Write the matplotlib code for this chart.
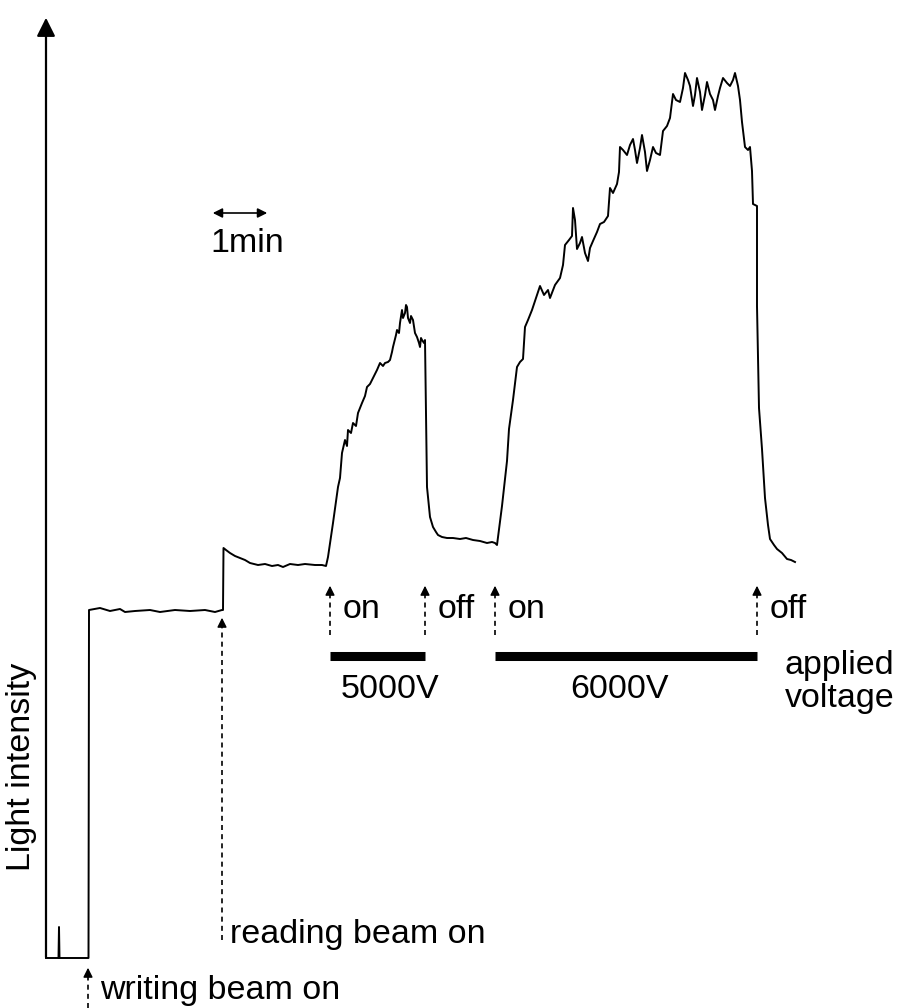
import matplotlib
matplotlib.use("Agg")
import matplotlib.pyplot as plt

plt.rcParams["font.family"] = ["Liberation Sans", "DejaVu Sans"]

# recorder trace: time in seconds, light intensity in arbitrary units
trace_t = [0, 12.5, 13, 13.5, 42.5, 43,
           54, 64, 74, 79, 89, 104, 114, 129, 144, 159, 169, 176, 177,
           177.5, 180, 184, 189, 194, 199, 204, 212, 219, 226, 232, 237, 244, 252, 259, 269, 276, 280,
           282, 287, 292, 294, 296, 299, 301, 302, 305, 307, 310, 312, 316, 319, 321, 324, 327, 331,
           334, 337, 339, 342, 344, 346, 347, 350, 351, 353, 354, 356, 357, 359, 360, 361, 362, 364,
           365, 367, 369, 371, 373, 374, 375, 376, 378, 379, 380, 381, 384, 387, 390, 392, 396, 401,
           407, 414, 420, 427, 434, 441, 446, 449,
           451, 456, 461, 463, 467, 471, 474, 477, 479, 482, 486, 490, 494, 498, 502, 504, 509, 514,
           517, 519, 523, 526, 527, 529, 531, 534, 536, 539, 542, 544, 547, 551, 554, 558, 562, 564,
           567, 571, 573, 574, 577, 581, 584, 587, 589, 591, 594, 596, 599, 601, 604, 607, 610, 614,
           617, 621, 624, 627, 630, 634, 637, 639, 642, 644, 647, 649, 651, 654, 656, 659, 661, 664,
           667, 669, 672, 674, 677, 681, 684, 687, 689, 692, 694, 696, 699, 702, 704, 706, 707, 711,
           711, 713, 716, 719, 722, 724, 728, 731, 736, 741, 745, 749]
trace_i = [2, 2, 33, 2, 2, 350,
           352, 349, 351, 348, 349, 350, 348, 350, 349, 350, 348, 350, 350,
           412, 410, 407, 404, 402, 400, 397, 395, 396, 394, 395, 393, 396, 395, 396, 395, 395, 394,
           403, 437, 473, 482, 507, 520, 514, 530, 527, 537, 534, 547, 557, 564, 573, 576, 582, 590,
           597, 594, 597, 598, 600, 608, 613, 625, 630, 627, 637, 650, 642, 647, 655, 653, 642, 637,
           644, 640, 627, 623, 617, 613, 622, 620, 617, 620, 547, 473, 443, 433, 428, 425, 423, 422,
           422, 421, 422, 420, 419, 417, 418, 417,
           415, 454, 499, 531, 560, 593, 598, 601, 633, 640, 650, 662, 674, 665, 670, 662, 675, 682,
           695, 715, 720, 724, 752, 740, 711, 717, 723, 707, 699, 712, 719, 728, 736, 738, 744, 772,
           767, 776, 788, 813, 810, 805, 815, 821, 810, 797, 812, 825, 808, 789, 800, 813, 807, 805,
           829, 834, 842, 866, 860, 858, 872, 887, 880, 874, 854, 865, 882, 868, 850, 865, 878, 866,
           860, 850, 864, 872, 882, 877, 874, 880, 887, 874, 860, 838, 813, 810, 813, 789, 756, 754,
           654, 552, 511, 462, 435, 421, 415, 411, 407, 401, 400, 398]

# event times (s)
write_on = 43
read_on = 177
volt_on = [284, 449]
volt_off = [379, 711]
volt_names = ["5000V", "6000V"]
volt_label_t = [344, 574]

fig = plt.figure(figsize=(9, 10.08), dpi=100)
ax = fig.add_axes([0, 0, 1, 1])
ax.set_xlim(-46, 854)
ax.set_ylim(-48, 960)
ax.axis("off")

fs = 24.5

ax.plot(trace_t, trace_i, color="black", lw=1.4)

# intensity axis with arrow head
ax.annotate("", xy=(0, 945), xytext=(0, 0),
            arrowprops=dict(arrowstyle="-|>", color="black", lw=1.6, mutation_scale=28))
ax.text(-24, 193, "Light intensity", rotation=90, ha="center", va="center", fontsize=fs)


def dashed_arrow(t, lo, hi):
    ax.plot([t, t], [lo, hi - 8], color="black", lw=1.2, ls=(0, (3, 2.5)))
    ax.annotate("", xy=(t, hi), xytext=(t, hi - 12),
                arrowprops=dict(arrowstyle="-|>", color="black", lw=1.0, mutation_scale=14))


# beam markers
dashed_arrow(write_on - 1, -48, -5)
ax.text(write_on + 11, -30, "writing beam on", ha="left", va="center", fontsize=fs)
dashed_arrow(read_on - 1, 20, 345)
ax.text(read_on + 7, 25, "reading beam on", ha="left", va="center", fontsize=fs)

# time scale
ax.annotate("", xy=(164, 747), xytext=(224, 747),
            arrowprops=dict(arrowstyle="<|-|>", color="black", lw=1.2, mutation_scale=14))
ax.text(201, 717, "1min", ha="center", va="center", fontsize=fs)

# voltage on/off markers and bars
for on, off, name, lt in zip(volt_on, volt_off, volt_names, volt_label_t):
    dashed_arrow(on, 325, 377)
    dashed_arrow(off, 325, 377)
    ax.text(on + 13, 350, "on", ha="left", va="center", fontsize=fs)
    ax.text(off + 13, 350, "off", ha="left", va="center", fontsize=fs)
    ax.plot([on, off], [304, 304], color="black", lw=6.5, solid_capstyle="butt")
    ax.text(lt, 270, name, ha="center", va="center", fontsize=fs)

ax.text(739, 278, "applied\nvoltage", ha="left", va="center", fontsize=fs, linespacing=1.05)

fig.savefig("out.png", dpi=100, facecolor="white")
